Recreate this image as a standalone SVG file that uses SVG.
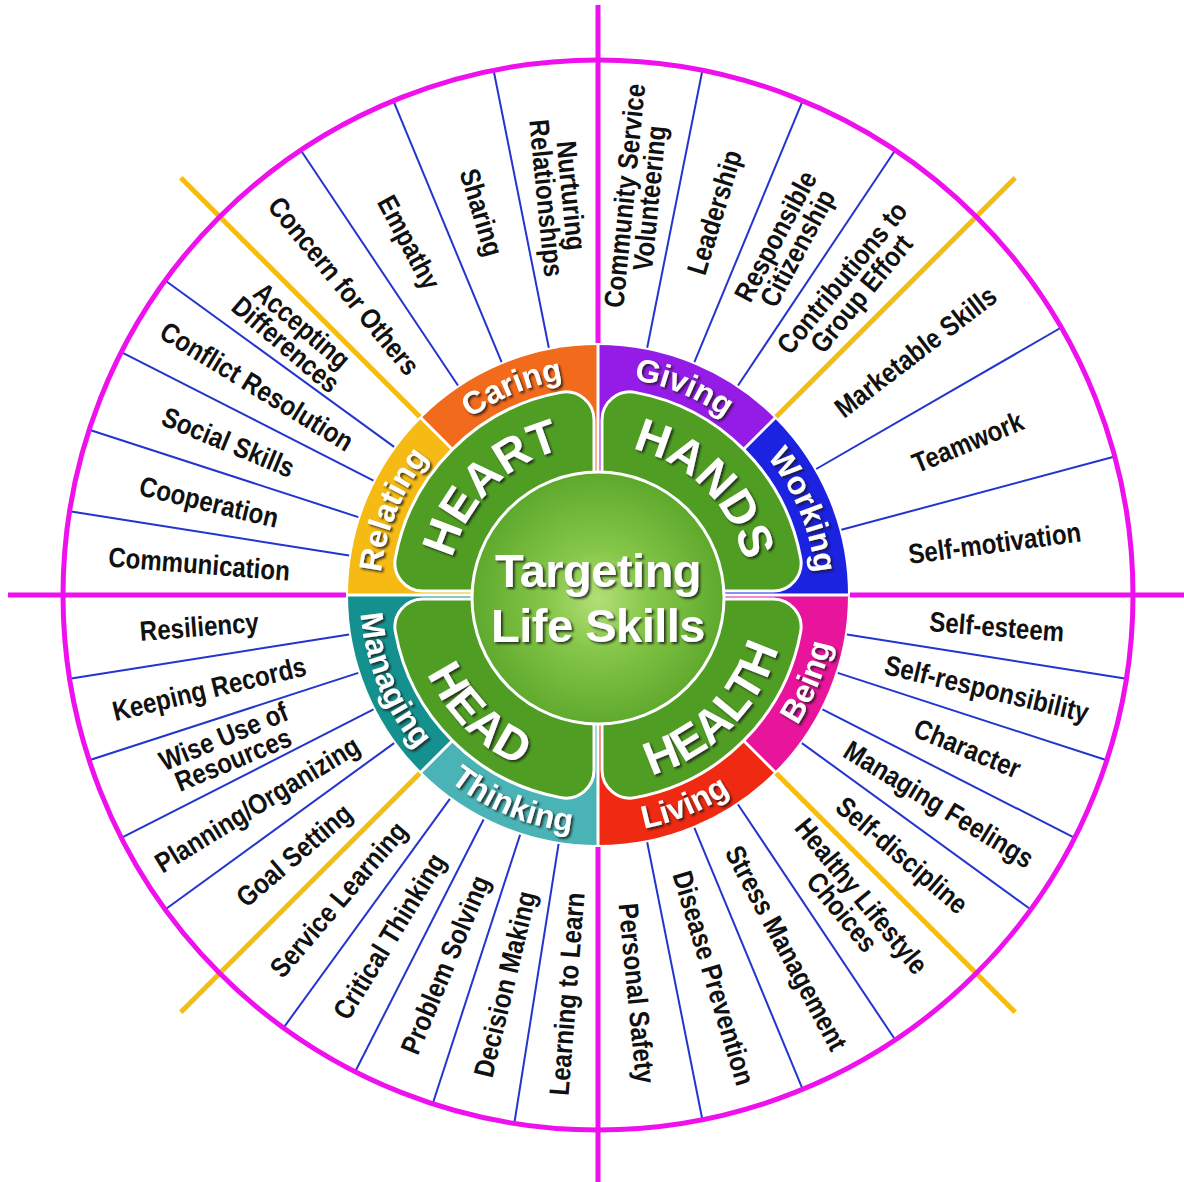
<svg xmlns="http://www.w3.org/2000/svg" width="1184" height="1182" viewBox="0 0 1184 1182">
<style>
.lbl{font-family:"Liberation Sans",Arial,sans-serif;font-weight:bold;font-size:28px;fill:#111;text-anchor:middle}
.rt{font-family:"Liberation Sans",Arial,sans-serif;font-weight:bold;font-size:32px;fill:#fff;text-anchor:middle}
.bt{font-family:"Liberation Sans",Arial,sans-serif;font-weight:bold;font-size:47px;fill:#fff;text-anchor:middle}
.tt{font-family:"Liberation Sans",Arial,sans-serif;font-weight:bold;font-size:47px;fill:#fff;text-anchor:middle;letter-spacing:-0.5px}
.blue{stroke:#2235cf;stroke-width:2}
.mag{stroke:#ee11ee;stroke-width:5}
.yel{stroke:#f5bd12;stroke-width:5}
.sep{stroke:#fff;stroke-width:3}
.petal{fill:url(#pg);stroke:#fff;stroke-width:3}
</style>
<defs>
<radialGradient id="pg" gradientUnits="userSpaceOnUse" cx="598" cy="595" r="210">
<stop offset="0.6" stop-color="#6cb93a"/><stop offset="1" stop-color="#4f9d23"/>
</radialGradient>
<radialGradient id="cg" gradientUnits="userSpaceOnUse" cx="598" cy="600" r="126">
<stop offset="0" stop-color="#b3df78"/><stop offset="0.4" stop-color="#86c74a"/><stop offset="1" stop-color="#5ea92c"/>
</radialGradient>
<filter id="sh" x="-20%" y="-20%" width="140%" height="140%">
<feDropShadow dx="2" dy="2" stdDeviation="1" flood-color="#1a1a1a" flood-opacity="0.8"/>
</filter>
<path id="pCaring" d="M404.6 494.3 A218 218 0 0 1 663.6 387.1"/>
<path id="pGiving" d="M532.4 387.1 A218 218 0 0 1 791.4 494.3"/>
<path id="pWorking" d="M698.7 401.6 A218 218 0 0 1 805.9 660.6"/>
<path id="pRelating" d="M390.1 660.6 A218 218 0 0 1 497.3 401.6"/>
<path id="pBeing" d="M707.9 806.1 A238 238 0 0 0 825 523.4"/>
<path id="pLiving" d="M526.4 822 A238 238 0 0 0 809.1 704.9"/>
<path id="pThinking" d="M386.9 704.9 A238 238 0 0 0 669.6 822"/>
<path id="pManaging" d="M371 523.4 A238 238 0 0 0 488.1 806.1"/>
<path id="pHeart" d="M453.1 633.8 A150 150 0 0 1 636.8 450.1"/>
<path id="pHands" d="M559.2 450.1 A150 150 0 0 1 742.9 633.8"/>
<path id="pHead" d="M416.4 546.3 A188 188 0 0 0 646.7 776.6"/>
<path id="pHealth" d="M549.3 776.6 A188 188 0 0 0 779.6 546.3"/>
<path id="petal" d="M4 -4 L4 -175.1 A28 28 0 0 1 37.03 -202.64 A206 206 0 0 1 202.64 -37.03 A28 28 0 0 1 175.1 -4 Z"/>
</defs>
<rect width="1184" height="1182" fill="#fff"/>

<g id="ring">
<path id="seg-caring" d="M598 595 L421.22 418.22 A250 250 0 0 1 598 345 Z" fill="#f26a1b"/>
<path id="seg-giving" d="M598 595 L598 345 A250 250 0 0 1 774.78 418.22 Z" fill="#951ce6"/>
<path id="seg-working" d="M598 595 L774.78 418.22 A250 250 0 0 1 848 595 Z" fill="#1b22e0"/>
<path id="seg-being" d="M598 595 L848 595 A250 250 0 0 1 774.78 771.78 Z" fill="#e8149c"/>
<path id="seg-living" d="M598 595 L774.78 771.78 A250 250 0 0 1 598 845 Z" fill="#f02a12"/>
<path id="seg-thinking" d="M598 595 L598 845 A250 250 0 0 1 421.22 771.78 Z" fill="#4ab3b5"/>
<path id="seg-managing" d="M598 595 L421.22 771.78 A250 250 0 0 1 348 595 Z" fill="#14918f"/>
<path id="seg-relating" d="M598 595 L348 595 A250 250 0 0 1 421.22 418.22 Z" fill="#f5bb14"/>
<g class="sep">
<line x1="598" y1="595" x2="850" y2="595"/><line x1="598" y1="595" x2="346" y2="595"/>
<line x1="598" y1="595" x2="598" y2="343"/><line x1="598" y1="595" x2="598" y2="847"/>
<line x1="598" y1="595" x2="776" y2="417"/><line x1="598" y1="595" x2="420" y2="417"/>
<line x1="598" y1="595" x2="420" y2="773"/><line x1="598" y1="595" x2="776" y2="773"/>
</g>
</g>

<g id="petals" transform="translate(598 595)">
<use href="#petal" class="petal"/>
<use href="#petal" class="petal" transform="rotate(-90)"/>
<use href="#petal" class="petal" transform="rotate(90)"/>
<use href="#petal" class="petal" transform="rotate(180)"/>
</g>

<g id="center">
<circle cx="598" cy="598" r="126" fill="url(#cg)" stroke="#fff" stroke-width="3"/>
<g filter="url(#sh)">
<text class="tt" x="598" y="587">Targeting</text>
<text class="tt" x="598" y="642">Life Skills</text>
</g>
</g>

<g id="domains" filter="url(#sh)">
<text class="bt"><textPath href="#pHeart" startOffset="50%">HEART</textPath></text>
<text class="bt"><textPath href="#pHands" startOffset="50%">HANDS</textPath></text>
<text class="bt"><textPath href="#pHead" startOffset="50%">HEAD</textPath></text>
<text class="bt"><textPath href="#pHealth" startOffset="50%">HEALTH</textPath></text>
</g>

<g id="ring-labels" filter="url(#sh)">
<text class="rt"><textPath href="#pCaring" startOffset="50%">Caring</textPath></text>
<text class="rt"><textPath href="#pGiving" startOffset="50%">Giving</textPath></text>
<text class="rt"><textPath href="#pWorking" startOffset="50%">Working</textPath></text>
<text class="rt"><textPath href="#pRelating" startOffset="50%">Relating</textPath></text>
<text class="rt"><textPath href="#pBeing" startOffset="50%">Being</textPath></text>
<text class="rt"><textPath href="#pLiving" startOffset="50%">Living</textPath></text>
<text class="rt"><textPath href="#pThinking" startOffset="50%">Thinking</textPath></text>
<text class="rt"><textPath href="#pManaging" startOffset="50%">Managing</textPath></text>
</g>

<g id="connectors">
<g class="blue">
<line x1="548.8" y1="347.8" x2="493.6" y2="70.3"/>
<line x1="501.6" y1="362.2" x2="393.3" y2="100.7"/>
<line x1="458" y1="385.5" x2="300.8" y2="150.2"/>
<line x1="394.1" y1="446.9" x2="165.2" y2="280.5"/>
<line x1="373.5" y1="480.6" x2="121.3" y2="352.1"/>
<line x1="358.3" y1="517.1" x2="89.2" y2="429.7"/>
<line x1="349.1" y1="555.6" x2="69.6" y2="511.3"/>
<line x1="349.1" y1="634.4" x2="69.6" y2="678.7"/>
<line x1="358.3" y1="672.9" x2="89.2" y2="760.3"/>
<line x1="373.5" y1="709.4" x2="121.3" y2="837.9"/>
<line x1="394.1" y1="743.1" x2="165.2" y2="909.5"/>
<line x1="449.9" y1="798.9" x2="283.5" y2="1027.8"/>
<line x1="483.6" y1="819.5" x2="355.1" y2="1071.7"/>
<line x1="520.1" y1="834.7" x2="432.7" y2="1103.8"/>
<line x1="558.6" y1="843.9" x2="514.3" y2="1123.4"/>
<line x1="647.2" y1="842.2" x2="702.4" y2="1119.7"/>
<line x1="694.4" y1="827.8" x2="802.7" y2="1089.3"/>
<line x1="738" y1="804.5" x2="895.2" y2="1039.8"/>
<line x1="801.9" y1="743.1" x2="1030.8" y2="909.5"/>
<line x1="822.5" y1="709.4" x2="1074.7" y2="837.9"/>
<line x1="837.7" y1="672.9" x2="1106.8" y2="760.3"/>
<line x1="846.9" y1="634.4" x2="1126.4" y2="678.7"/>
<line x1="841.4" y1="529.8" x2="1114.8" y2="456.5"/>
<line x1="816.2" y1="469" x2="1061.3" y2="327.5"/>
<line x1="738" y1="385.5" x2="895.2" y2="150.2"/>
<line x1="694.4" y1="362.2" x2="802.7" y2="100.7"/>
<line x1="647.2" y1="347.8" x2="702.4" y2="70.3"/>
</g>
<g class="yel">
<line x1="776.2" y1="416.8" x2="1015.2" y2="177.8"/>
<line x1="419.8" y1="416.8" x2="180.8" y2="177.8"/>
<line x1="419.8" y1="773.2" x2="180.8" y2="1012.2"/>
<line x1="776.2" y1="773.2" x2="1015.2" y2="1012.2"/>
</g>
<g class="mag">
<line x1="598" y1="5" x2="598" y2="343"/>
<line x1="598" y1="847" x2="598" y2="1182"/>
<line x1="8" y1="595" x2="346" y2="595"/>
<line x1="850" y1="595" x2="1184" y2="595"/>
</g>
<circle cx="598" cy="595" r="535" fill="none" class="mag"/>
</g>

<g id="skills">
<g id="s-nurturing"><text class="lbl" transform="translate(558.8 196.9) rotate(84.375) scale(0.86 1)"><tspan x="0" y="-3">Nurturing</tspan><tspan x="0" y="22">Relationships</tspan></text></g>
<g id="s-sharing"><text class="lbl" transform="translate(481.9 212.2) rotate(73.125) scale(0.86 1)" y="10">Sharing</text></g>
<g id="s-empathy"><text class="lbl" transform="translate(409.4 242.2) rotate(61.875) scale(0.86 1)" y="10">Empathy</text></g>
<g id="s-concern"><text class="lbl" transform="translate(344.2 285.8) rotate(50.625) scale(0.86 1)" y="10">Concern for Others</text></g>
<g id="s-accepting"><text class="lbl" transform="translate(293.8 335.2) rotate(40.5) scale(0.86 1)"><tspan x="0" y="-3">Accepting</tspan><tspan x="0" y="22">Differences</tspan></text></g>
<g id="s-conflict"><text class="lbl" transform="translate(257 386) rotate(31.5) scale(0.86 1)" y="10">Conflict Resolution</text></g>
<g id="s-social"><text class="lbl" transform="translate(228.4 441.9) rotate(22.5) scale(0.86 1)" y="10">Social Skills</text></g>
<g id="s-cooperation"><text class="lbl" transform="translate(209.1 501.6) rotate(13.5) scale(0.86 1)" y="10">Cooperation</text></g>
<g id="s-communication"><text class="lbl" transform="translate(199.2 563.6) rotate(4.5) scale(0.86 1)" y="10">Communication</text></g>
<g id="s-resiliency"><text class="lbl" transform="translate(199.2 626.4) rotate(-4.5) scale(0.86 1)" y="10">Resiliency</text></g>
<g id="s-records"><text class="lbl" transform="translate(209.1 688.4) rotate(-13.5) scale(0.86 1)" y="10">Keeping Records</text></g>
<g id="s-wise"><text class="lbl" transform="translate(228.4 748.1) rotate(-22.5) scale(0.86 1)"><tspan x="0" y="-3">Wise Use of</tspan><tspan x="0" y="22">Resources</tspan></text></g>
<g id="s-planning"><text class="lbl" transform="translate(257 804) rotate(-31.5) scale(0.86 1)" y="10">Planning/Organizing</text></g>
<g id="s-goal"><text class="lbl" transform="translate(293.8 854.8) rotate(-40.5) scale(0.86 1)" y="10">Goal Setting</text></g>
<g id="s-service"><text class="lbl" transform="translate(338.2 899.2) rotate(-49.5) scale(0.86 1)" y="10">Service Learning</text></g>
<g id="s-critical"><text class="lbl" transform="translate(389 936.1) rotate(-58.5) scale(0.86 1)" y="10">Critical Thinking</text></g>
<g id="s-problem"><text class="lbl" transform="translate(444.9 964.6) rotate(-67.5) scale(0.86 1)" y="10">Problem Solving</text></g>
<g id="s-decision"><text class="lbl" transform="translate(504.6 984) rotate(-76.5) scale(0.86 1)" y="10">Decision Making</text></g>
<g id="s-learning"><text class="lbl" transform="translate(566.6 993.8) rotate(-85.5) scale(0.86 1)" y="10">Learning to Learn</text></g>
<g id="s-safety"><text class="lbl" transform="translate(637.2 993.1) rotate(84.375) scale(0.86 1)" y="10">Personal Safety</text></g>
<g id="s-disease"><text class="lbl" transform="translate(714.1 977.8) rotate(73.125) scale(0.86 1)" y="10">Disease Prevention</text></g>
<g id="s-stress"><text class="lbl" transform="translate(786.6 947.8) rotate(61.875) scale(0.86 1)" y="10">Stress Management</text></g>
<g id="s-healthy"><text class="lbl" transform="translate(851.8 904.2) rotate(50.625) scale(0.86 1)"><tspan x="0" y="-3">Healthy Lifestyle</tspan><tspan x="0" y="22">Choices</tspan></text></g>
<g id="s-discipline"><text class="lbl" transform="translate(902.2 854.8) rotate(40.5) scale(0.86 1)" y="10">Self-discipline</text></g>
<g id="s-feelings"><text class="lbl" transform="translate(939.1 804) rotate(31.5) scale(0.86 1)" y="10">Managing Feelings</text></g>
<g id="s-character"><text class="lbl" transform="translate(967.6 748.1) rotate(22.5) scale(0.86 1)" y="10">Character</text></g>
<g id="s-responsibility"><text class="lbl" transform="translate(986.9 688.4) rotate(13.5) scale(0.86 1)" y="10">Self-responsibility</text></g>
<g id="s-esteem"><text class="lbl" transform="translate(996.8 626.4) rotate(4.5) scale(0.86 1)" y="10">Self-esteem</text></g>
<g id="s-motivation"><text class="lbl" transform="translate(994.6 542.8) rotate(-7.5) scale(0.86 1)" y="10">Self-motivation</text></g>
<g id="s-teamwork"><text class="lbl" transform="translate(967.6 441.9) rotate(-22.5) scale(0.86 1)" y="10">Teamwork</text></g>
<g id="s-marketable"><text class="lbl" transform="translate(915.3 351.5) rotate(-37.5) scale(0.86 1)" y="10">Marketable Skills</text></g>
<g id="s-contributions"><text class="lbl" transform="translate(851.8 285.8) rotate(-50.625) scale(0.86 1)"><tspan x="0" y="-3">Contributions to</tspan><tspan x="0" y="22">Group Effort</tspan></text></g>
<g id="s-citizenship"><text class="lbl" transform="translate(786.6 242.2) rotate(-61.875) scale(0.86 1)"><tspan x="0" y="-3">Responsible</tspan><tspan x="0" y="22">Citizenship</tspan></text></g>
<g id="s-leadership"><text class="lbl" transform="translate(714.1 212.2) rotate(-73.125) scale(0.86 1)" y="10">Leadership</text></g>
<g id="s-community"><text class="lbl" transform="translate(637.2 196.9) rotate(-84.375) scale(0.86 1)"><tspan x="0" y="-3">Community Service</tspan><tspan x="0" y="22">Volunteering</tspan></text></g>
</g>
</svg>
